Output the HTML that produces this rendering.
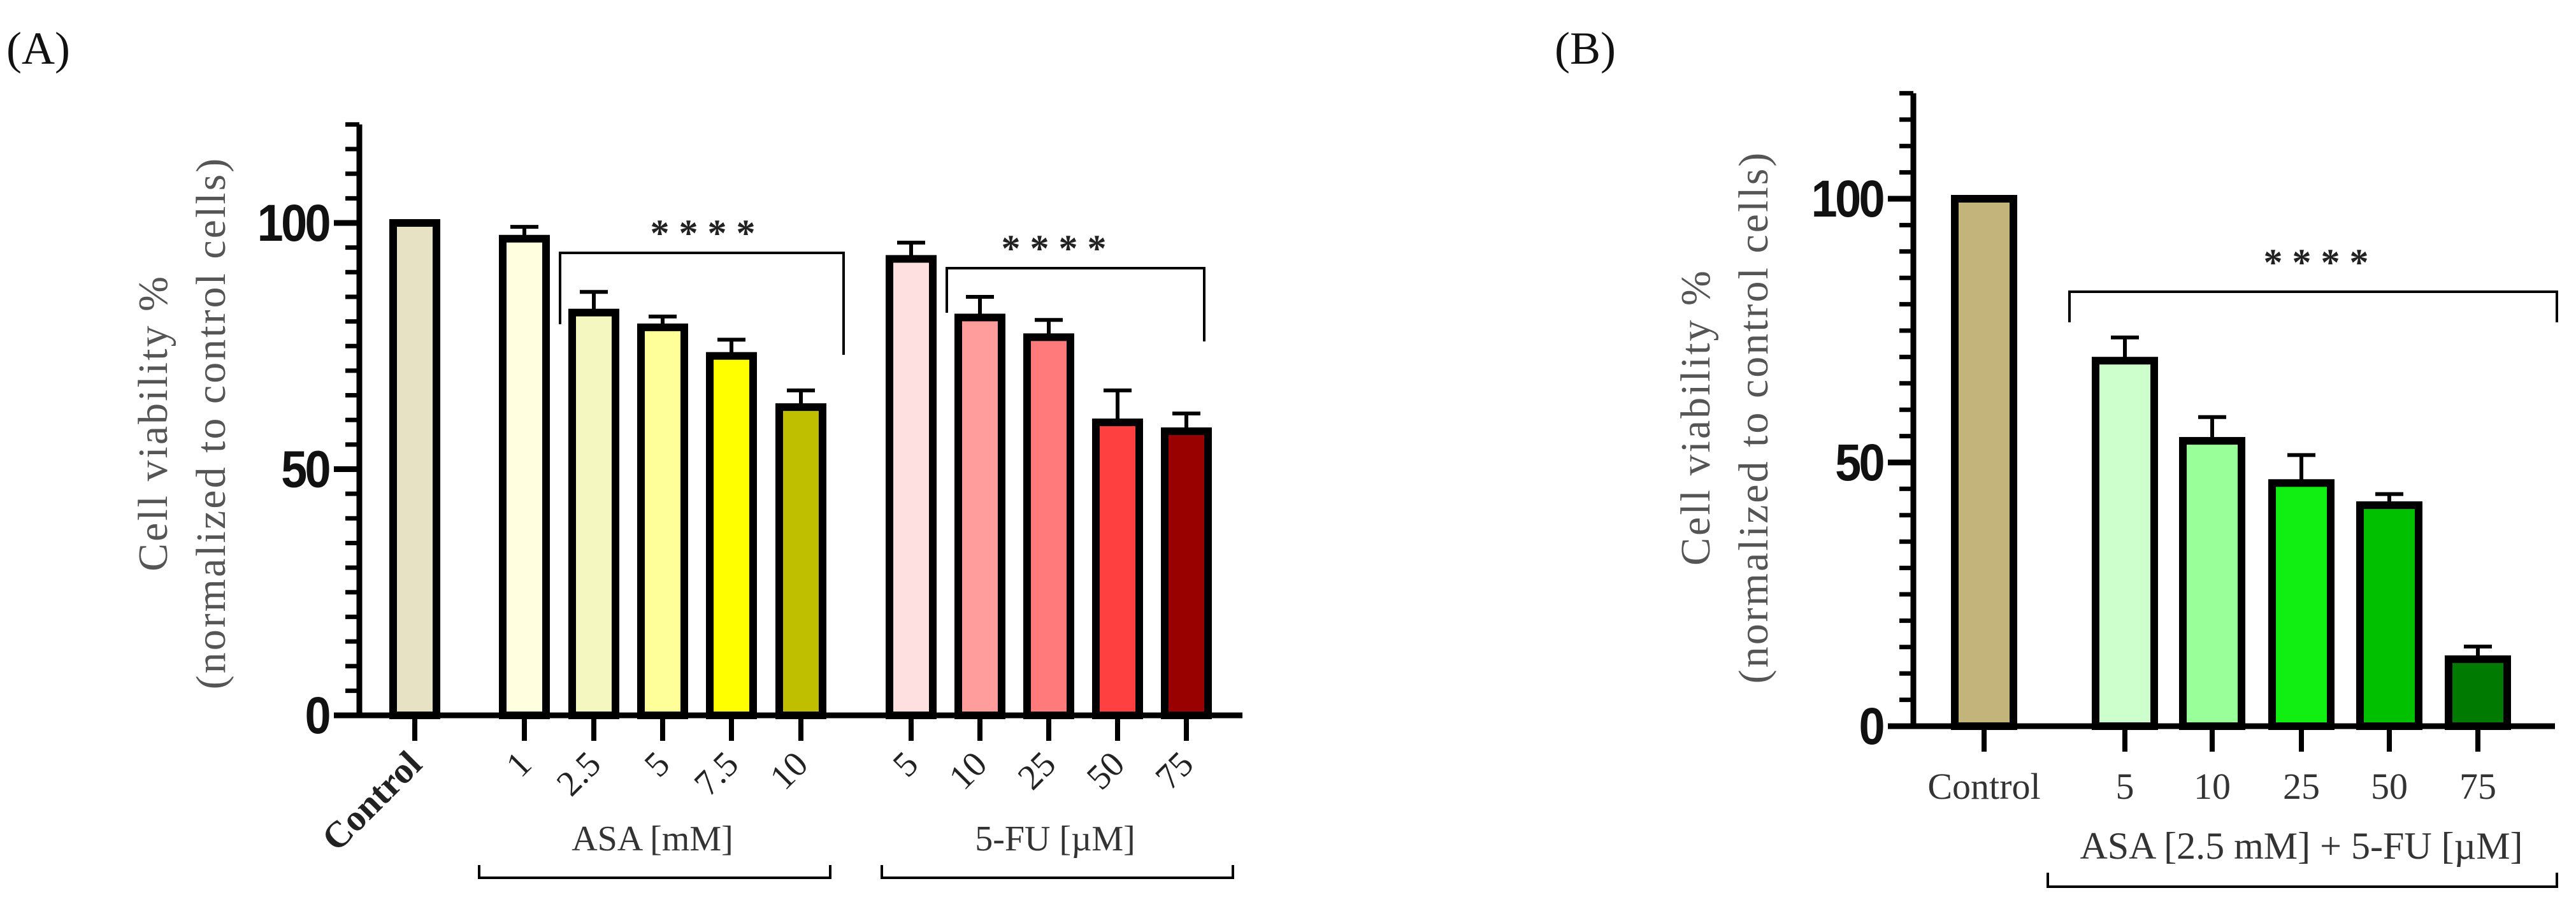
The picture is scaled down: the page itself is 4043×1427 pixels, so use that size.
<!DOCTYPE html>
<html><head><meta charset="utf-8">
<style>
html,body{margin:0;padding:0;background:#fff;}
svg{display:block;}
text{font-family:"Liberation Serif",serif;}
</style></head>
<body>
<svg id="fig" width="4043" height="1427" viewBox="0 0 4043 1427" xmlns="http://www.w3.org/2000/svg">
<text x="10" y="100" font-size="72" fill="#111">(A)</text>
<text x="2440" y="100" font-size="72" fill="#111">(B)</text>
<g id="chartA"></g>
<g id="chartB"></g>
</svg>
<script>
// ---- Panel A data ----
const catsA = ["Control","1","2.5","5","7.5","10","5","10","25","50","75"];
const valsA = [100,96.8,81.8,78.8,73,62.6,92.7,80.8,76.8,59.5,57.7];
const errA  = [0,2.4,4.2,2.2,3.3,3.4,3.3,4.2,3.5,6.5,3.6];
const colorsA = ["#e8e2c4","#ffffe0","#f4f8c0","#ffff99","#ffff00","#bfbf00","#ffe0e0","#ff9c9c","#ff7a7a","#ff4040","#990000"];
// ---- Panel B data ----
const catsB = ["Control","5","10","25","50","75"];
const valsB = [100,69.3,54.1,46.1,41.9,12.7];
const errB  = [0,4.4,4.5,5.3,2.1,2.4];
const colorsB = ["#c2b47a","#ccffcc","#99ff99","#11ee11","#00c000","#007a00"];
const yTicks = [0,50,100];

const NS="http://www.w3.org/2000/svg";
function mk(parent,tag,attrs,txt){const e=document.createElementNS(NS,tag);for(const k in attrs)e.setAttribute(k,attrs[k]);if(txt!==undefined)e.textContent=txt;parent.appendChild(e);return e;}

function drawChart(g,cfg,cats,vals,errs,colors){
  const y=v=>cfg.y0-(v/100)*(cfg.y0-cfg.y100);
  const x=i=>cfg.xStart+cfg.xPos(i);
  let ax=mk(g,'line',{x1:cfg.axX,y1:y(0)+4,x2:cfg.axX,y2:y(120),stroke:'#000','stroke-width':9});
  
  
  for(let v=0;v<=120;v+=5){
    const major=(v%50===0);
    let t=mk(g,'line',{x1:cfg.axX-(major?40:22),y1:y(v),x2:cfg.axX,y2:y(v),stroke:'#000','stroke-width':major?9:7});
    
    
  }
  yTicks.forEach(v=>{
    let t=mk(g,'text',{x:cfg.axX-48,y:y(v)+28,'text-anchor':'end','font-size':82,'font-weight':'bold',fill:'#111',transform:`translate(${cfg.axX-48} 0) scale(0.9 1) translate(${-(cfg.axX-48)} 0)`,style:'font-family:"Liberation Sans",sans-serif;letter-spacing:-4px'},String(v));
    
    
  });
  let xa=mk(g,'line',{x1:cfg.axX-40,y1:y(0),x2:cfg.xEnd,y2:y(0),stroke:'#000','stroke-width':9});
  
  
  cats.forEach((c,i)=>{
    const cx=x(i),w=cfg.barW;
    let r=mk(g,'rect',{x:cx-w/2+6,y:y(vals[i]),width:w-12,height:y(0)-y(vals[i]),fill:colors[i],stroke:'#000','stroke-width':12});
    
    
    if(errs[i]>0){
      let e=mk(g,'path',{d:`M${cx},${y(vals[i])} V${y(vals[i]+errs[i])} M${cx-22},${y(vals[i]+errs[i])} H${cx+22}`,stroke:'#000','stroke-width':6,fill:'none'});
      
      
    }
    let tk=mk(g,'line',{x1:cx,y1:y(0),x2:cx,y2:y(0)+40,stroke:'#000','stroke-width':8});
    
    
    let lab;
    if(cfg.rotate){
      lab=mk(g,'text',{x:cx+14,y:y(0)+80,'text-anchor':'end','font-size':i===0?58:56,'font-weight':i===0?'bold':'normal',fill:'#222',transform:`rotate(-45 ${cx+14} ${y(0)+80})`},c);
    }else{
      lab=mk(g,'text',{x:cx,y:y(0)+114,'text-anchor':'middle','font-size':58,fill:'#333'},c);
    }
    
    
  });
  const tx=cfg.titleX, ty=cfg.titleY;
  let t1=mk(g,'text',{x:tx,y:ty,'text-anchor':'middle','font-size':66,fill:'#555',transform:`rotate(-90 ${tx} ${ty})`,style:'letter-spacing:3px'},'Cell viability %');
  
  
  let t2=mk(g,'text',{x:tx+91,y:ty,'text-anchor':'middle','font-size':66,fill:'#555',transform:`rotate(-90 ${tx+91} ${ty})`,style:'letter-spacing:3px'},'(normalized to control cells)');
  
  
  return y;
}
function bracket(g,x1,x2,yy,drop1,drop2,name){
  let p=mk(g,'path',{d:`M${x1},${yy+drop1} V${yy} H${x2} V${yy+drop2}`,stroke:'#000','stroke-width':4,fill:'none'});
  
  
}
function label(g,x,yy,txt,size,name,fill,weight){
  let t=mk(g,'text',{x:x,y:yy,'text-anchor':'middle','font-size':size,fill:fill||'#333','font-weight':weight||'normal'},txt);
  
  
}

const gA=document.getElementById('chartA');
const posA=[0,172,281,389,497,606,779,887,995,1103,1211];
drawChart(gA,{axX:564,y0:1123,y100:350,xStart:651,xPos:i=>posA[i],barW:80,xEnd:1950,rotate:true,titleX:262,titleY:664},catsA,valsA,errA,colorsA);
bracket(gA,879,1324,397,112,160,'significance-bracket-asa');
label(gA,1103,386,'* * * *',60,'significance-stars-asa','#222','bold');
bracket(gA,1486,1890,421,70,115,'significance-bracket-5fu');
label(gA,1654,410,'* * * *',60,'significance-stars-5fu','#222','bold');
label(gA,1024,1335,'ASA [mM]',56,'group-label-asa');
label(gA,1656,1335,'5-FU [µM]',56,'group-label-5fu');
bracket(gA,752,1303,1378,-20,-20,'group-bracket-asa');
bracket(gA,1384,1935,1378,-20,-20,'group-bracket-5fu');

const gB=document.getElementById('chartB');
const posB=[0,221,358,498,636,775];
drawChart(gB,{axX:3003,y0:1140,y100:312,xStart:3114,xPos:i=>posB[i],barW:104,xEnd:4010,rotate:false,titleX:2683,titleY:655},catsB,valsB,errB,colorsB);
bracket(gB,3248,4013,458,48,48,'significance-bracket-b');
label(gB,3635,432,'* * * *',60,'significance-stars-b','#222','bold');
label(gB,3612,1348,'ASA  [2.5 mM] + 5-FU [µM]',60,'group-label-b');
bracket(gB,3214,4013,1392,-22,-22,'group-bracket-b');
</script>
</body></html>
